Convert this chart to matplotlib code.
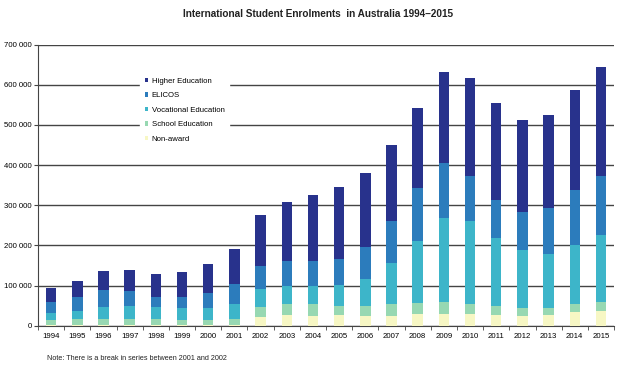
import matplotlib
matplotlib.use("Agg")
import matplotlib.pyplot as plt
import numpy as np
from matplotlib.ticker import FuncFormatter, FixedLocator

years = [str(y) for y in range(1994, 2016)]
# values in thousands
non_award = [2, 2, 2, 2, 2, 2, 2, 2, 22, 27, 24, 26, 24, 25, 28, 30, 28, 26, 24, 26, 34, 36]
school = [11, 14, 15, 15, 14, 12, 12, 14, 25, 26, 29, 24, 24, 29, 29, 29, 26, 22, 21, 19, 19, 23]
vocational = [19, 21, 29, 32, 30, 29, 29, 38, 44, 46, 46, 52, 69, 103, 155, 209, 206, 170, 143, 134, 148, 168]
elicos = [28, 35, 43, 37, 26, 29, 39, 50, 58, 62, 62, 65, 78, 103, 130, 137, 114, 95, 95, 115, 136, 147]
higher = [33, 40, 46, 53, 57, 61, 72, 86, 126, 146, 164, 178, 185, 191, 200, 226, 242, 241, 230, 231, 251, 270]

series = [
    ("Non-award", non_award, "#f7f7c4"),
    ("School Education", school, "#97d8b2"),
    ("Vocational Education", vocational, "#3db5c9"),
    ("ELICOS", elicos, "#2c7cbc"),
    ("Higher Education", higher, "#28328c"),
]

plt.rcParams['font.family'] = ['Liberation Sans', 'DejaVu Sans']

fig = plt.figure(figsize=(6.39, 3.68), dpi=100)
ax = fig.add_axes([0.0595, 0.115, 0.9015, 0.7635])

x = np.arange(len(years))
bottom = np.zeros(len(years))
handles = {}
for name, vals, color in series:
    v = np.array(vals) * 1000.0
    b = ax.bar(x, v, width=0.4, bottom=bottom, color=color, label=name, zorder=3)
    handles[name] = b
    bottom += v

ax.set_xlim(-0.5, len(years) - 0.5)
ax.set_ylim(0, 700000)
ax.set_yticks(np.arange(0, 700001, 100000))
ax.yaxis.set_major_formatter(FuncFormatter(lambda v, p: f"{int(v):,}".replace(",", " ")))
ax.grid(axis='y', color='#444444', linewidth=1.0, zorder=1)
ax.set_xticks(x)
ax.set_xticklabels(years)
ax.xaxis.set_minor_locator(FixedLocator(np.arange(-0.5, len(years), 1.0)))
ax.tick_params(axis='x', which='major', length=0, labelsize=5.6, pad=5)
ax.tick_params(axis='x', which='minor', length=3, color='#444444')
ax.tick_params(axis='y', labelsize=5.6, length=3, color='#444444', pad=1.5)
for s in ['top', 'right']:
    ax.spines[s].set_visible(False)
ax.spines['left'].set_color('#444444')
ax.spines['bottom'].set_color('#444444')

order = ["Higher Education", "ELICOS", "Vocational Education", "School Education", "Non-award"]
leg = ax.legend([handles[n] for n in order], order, loc='upper left',
                bbox_to_anchor=(0.17, 0.912), fontsize=5.6, frameon=True,
                handlelength=0.5, handleheight=0.5, handletextpad=0.4,
                labelspacing=0.95, borderpad=0.6)
leg.get_frame().set_facecolor('white')
leg.get_frame().set_edgecolor('white')
leg.get_frame().set_alpha(1.0)
leg.set_zorder(5)

fig.text(0.497, 0.962, "International Student Enrolments  in Australia 1994\u20132015",
         ha='center', va='center', fontsize=7.2, fontweight='bold', color='#222222')
fig.text(0.074, 0.027, "Note: There is a break in series between 2001 and 2002",
         ha='left', va='center', fontsize=5.2, color='#222222')

fig.savefig("out.png", dpi=100)
